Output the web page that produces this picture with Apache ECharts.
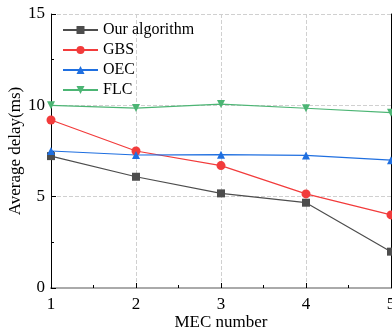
<!DOCTYPE html>
<html><head><meta charset="utf-8">
<script src="https://cdn.jsdelivr.net/npm/echarts@6/dist/echarts.min.js"></script>
<style>html,body{margin:0;padding:0;background:#fff}#c{width:392px;height:328px}</style>
</head><body><div id="c"></div>
<script>
const categories = [1, 2, 3, 4, 5];
const ourAlgorithm = [7.22, 6.09, 5.18, 4.67, 1.99];
const gbs = [9.2, 7.5, 6.7, 5.15, 4.0];
const oec = [7.5, 7.28, 7.3, 7.26, 7.0];
const flc = [10.0, 9.85, 10.07, 9.84, 9.6];
const yTicks = [0, 5, 10, 15];

const font = 'Liberation Serif, Times New Roman, serif';
const chart = echarts.init(document.getElementById('c'), null, {renderer: 'canvas'});
function mk(name, data, color, symbol) {
  return {
    name, type: 'line', data: categories.map((c, i) => [c, data[i]]),
    symbol, symbolSize: symbol === 'circle' ? 9 : 8,
    lineStyle: {color, width: 1.2}, itemStyle: {color},
    emphasis: {disabled: true}
  };
}
const axisFont = {fontFamily: font, fontSize: 17, color: '#000'};
chart.setOption({
  animation: false,
  grid: {left: 51, right: 1, top: 14, bottom: 40, containLabel: false, outerBoundsMode: 'none'},
  legend: {
    orient: 'vertical', left: 57, top: 17, itemWidth: 35, itemHeight: 10, itemGap: 4,
    textStyle: {fontFamily: font, fontSize: 16, color: '#000'},
    data: ['Our algorithm', 'GBS', 'OEC', 'FLC']
  },
  xAxis: [{
    type: 'value', min: 1, max: 5, interval: 1,
    name: 'MEC number', nameLocation: 'middle', nameGap: 26, nameMoveOverlap: false,
    nameTextStyle: axisFont,
    axisLine: {lineStyle: {color: '#000', width: 1}},
    axisTick: {inside: true, length: 5, lineStyle: {color: '#000'}},
    minorTick: {show: true, splitNumber: 2, length: 3, lineStyle: {color: '#000'}},
    axisLabel: Object.assign({margin: 8}, axisFont),
    splitLine: {show: true, lineStyle: {type: 'dashed', color: '#d0d0d0'}}
  }, {
    type: 'value', min: 1, max: 5, position: 'top',
    axisLine: {show: true, lineStyle: {color: '#aaa', width: 2}},
    axisTick: {show: false}, axisLabel: {show: false}, splitLine: {show: false}
  }],
  yAxis: [{
    type: 'value', min: 0, max: 15, interval: 5,
    name: 'Average delay(ms)', nameLocation: 'middle', nameGap: 27, nameMoveOverlap: false,
    nameTextStyle: axisFont,
    axisLine: {show: true, lineStyle: {color: '#000', width: 1}},
    axisTick: {show: true, inside: true, length: 5, lineStyle: {color: '#000'}},
    minorTick: {show: true, splitNumber: 2, length: 3, lineStyle: {color: '#000'}},
    axisLabel: Object.assign({margin: 6, formatter: v => yTicks.includes(v) ? String(v) : ''}, axisFont),
    splitLine: {show: true, lineStyle: {type: 'dashed', color: '#d0d0d0'}}
  }, {
    type: 'value', min: 0, max: 15, position: 'right',
    axisLine: {show: true, lineStyle: {color: '#000', width: 1}},
    axisTick: {show: false}, axisLabel: {show: false}, splitLine: {show: false}
  }],
  series: [
    mk('Our algorithm', ourAlgorithm, '#4d4d4d', 'rect'),
    mk('GBS', gbs, '#f23b3b', 'circle'),
    mk('OEC', oec, '#1f6fe0', 'triangle'),
    mk('FLC', flc, '#4cb574', 'path://M0,0 L10,0 L5,9 Z')
  ]
});
</script></body></html>
